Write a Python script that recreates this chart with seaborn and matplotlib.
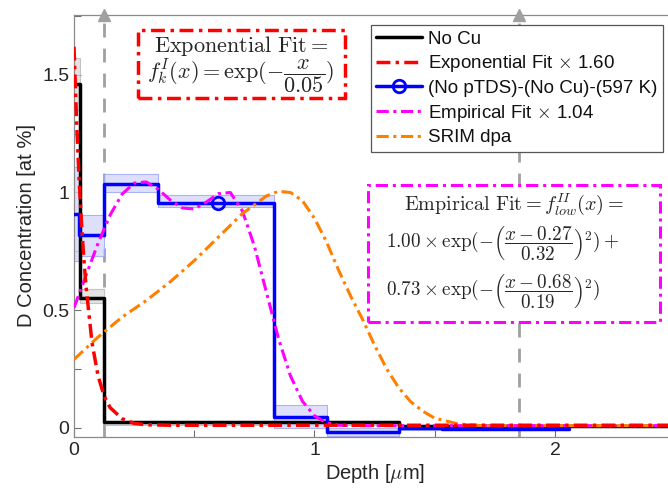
import numpy as np
import pandas as pd
import seaborn as sns
import matplotlib.pyplot as plt
from matplotlib.ticker import MultipleLocator
from matplotlib.patches import Rectangle

# No Cu step profile (bin edges / values), grey error band
nocu_x = [0, 0.025, 0.125, 1.35, 2.5]
nocu_y = [1.46, 0.55, 0.022, 0.008, 0.008]
nocu_lo = [1.35, 0.53, 0.012, 0.004, 0.004]
nocu_hi = [1.57, 0.59, 0.030, 0.012, 0.012]

# (No pTDS)-(No Cu)-(597 K) step profile, blue band
pt_x = [0, 0.02, 0.125, 0.35, 0.60, 0.83, 1.05, 1.35, 1.53, 2.06]
pt_y = [0.91, 0.82, 1.035, 0.955, 0.955, 0.047, -0.018, -0.003, -0.006, -0.006]
pt_lo = [0.71, 0.73, 1.00, 0.94, 0.94, 0.0, -0.035, -0.012, -0.008, -0.008]
pt_hi = [1.11, 0.905, 1.08, 0.99, 0.99, 0.094, 0.0, 0.004, -0.002, -0.002]

# exponential fit x 1.60
exp_x = [0, 0.01, 0.02, 0.03, 0.04, 0.05, 0.075, 0.1, 0.125, 0.15, 0.2, 0.25, 0.3, 0.4, 2.5]
exp_y = [1.62, 1.32, 1.08, 0.89, 0.73, 0.6, 0.36, 0.22, 0.135, 0.085, 0.038, 0.018, 0.012, 0.01, 0.01]

# empirical fit x 1.04
emp_x = [0, 0.05, 0.1, 0.15, 0.2, 0.25, 0.3, 0.35, 0.4, 0.45, 0.5, 0.55, 0.6, 0.65,
         0.7, 0.75, 0.8, 0.85, 0.9, 0.95, 1.0, 1.05, 1.1, 1.2, 2.5]
emp_y = [0.51, 0.648, 0.784, 0.904, 0.993, 1.04, 1.045, 1.014, 0.968, 0.934, 0.93, 0.959,
         0.995, 1.0, 0.922, 0.772, 0.576, 0.38, 0.22, 0.112, 0.05, 0.02, 0.01, 0.008, 0.008]

# SRIM dpa
srim_x = [0, 0.1, 0.2, 0.3, 0.4, 0.5, 0.6, 0.7, 0.8, 0.85, 0.9, 0.95, 1.0, 1.05, 1.1,
          1.15, 1.2, 1.25, 1.3, 1.35, 1.4, 1.45, 1.5, 1.6, 1.7, 2.5]
srim_y = [0.29, 0.385, 0.47, 0.54, 0.62, 0.71, 0.81, 0.91, 0.985, 1.005, 1.0, 0.965, 0.89,
          0.79, 0.67, 0.56, 0.46, 0.35, 0.25, 0.17, 0.11, 0.07, 0.04, 0.015, 0.008, 0.008]

marks_x = [0.125, 1.85]

sns.set_theme(style='white')
plt.rcParams['font.family'] = ['Liberation Sans', 'DejaVu Sans']
plt.rcParams['mathtext.fontset'] = 'cm'

W, H = 668, 498
fig = plt.figure(figsize=(W / 100, H / 100), dpi=100)
ax = fig.add_axes([0.1108, 0.1225, 0.9, 0.8474])

grey = '#a0a0a0'
for xv in marks_x:
    ax.axvline(xv, color=grey, ls=(0, (5, 4)), lw=2, zorder=1)
    ax.plot([xv], [1.755], marker='^', color=grey, ms=9, clip_on=False, zorder=5)

ax.fill_between(nocu_x, nocu_lo, nocu_hi, step='post', color='#d9d9d9', alpha=0.7,
                edgecolor='#b0b0b0', lw=0.8, zorder=2)
ax.fill_between(pt_x, pt_lo, pt_hi, step='post', color='#d6d9fb', alpha=0.8,
                edgecolor='#9aa3f5', lw=0.8, zorder=2)

dd = (0, (4, 1.5, 1, 1.5))
sns.lineplot(x=nocu_x, y=nocu_y, drawstyle='steps-post', color='black', lw=2.5,
             label='No Cu', ax=ax, zorder=4)
sns.lineplot(x=exp_x, y=exp_y, color='#ff0000', lw=2.5, ls=dd, dashes=False,
             label=r'Exponential Fit $\times$ 1.60', ax=ax, zorder=6)
sns.lineplot(x=pt_x, y=pt_y, drawstyle='steps-post', color='#0000ff', lw=2.5,
             marker='o', markevery=[4], ms=9, mfc='none', mew=2, mec='#0000ff',
             label='(No pTDS)-(No Cu)-(597 K)', ax=ax, zorder=4)
sns.lineplot(x=emp_x, y=emp_y, color='#ff00ff', lw=2.2, ls=dd, dashes=False,
             label=r'Empirical Fit $\times$ 1.04', ax=ax, zorder=5)
sns.lineplot(x=srim_x, y=srim_y, color='#ff8000', lw=2.2, ls=dd, dashes=False,
             label='SRIM dpa', ax=ax, zorder=5)

ax.set_xlim(0, 2.5)
ax.set_ylim(-0.04, 1.755)
ax.xaxis.set_minor_locator(MultipleLocator(0.5))
ax.yaxis.set_minor_locator(MultipleLocator(0.25))
ax.set_xticks([0, 1, 2])
ax.set_xticklabels(['0', '1', '2'])
ax.set_yticks([0, 0.5, 1, 1.5])
ax.set_yticklabels(['0', '0.5', '1', '1.5'])
ax.tick_params(which='both', direction='in', left=True, bottom=True, length=5,
               width=0.8, color='#707070', labelsize=14, labelcolor='#262626')
for s in ['left', 'bottom', 'top']:
    ax.spines[s].set_color('#8a8a8a')
    ax.spines[s].set_linewidth(0.9)
ax.spines['right'].set_visible(False)

ax.set_xlabel(r'Depth [$\mu$m]', fontsize=14.5, color='#262626', labelpad=2)
ax.set_ylabel('D Concentration [at %]', fontsize=14.5, color='#262626', labelpad=4)

leg = ax.legend(loc='upper right', bbox_to_anchor=(0.9925, 0.95),
                bbox_transform=fig.transFigure, fontsize=13.5, frameon=True,
                fancybox=False, framealpha=1, edgecolor='#555555',
                handlelength=2.45, handletextpad=0.3, labelspacing=0.3,
                borderpad=0.3, borderaxespad=0)
leg.get_frame().set_linewidth(0.9)
for t in leg.get_texts():
    t.set_color('#111111')


def fit_box(x0, y0, x1, y1, color, lw):
    # pixel box (top-left origin) -> figure fraction
    r = Rectangle((x0 / W, 1 - y1 / H), (x1 - x0) / W, (y1 - y0) / H,
                  transform=fig.transFigure, fc='white', ec=color, lw=lw,
                  ls=(0, (4, 1.6, 1, 1.6)), zorder=6)
    fig.patches.append(r)


fit_box(138, 30, 345, 98, '#ff0000', 2.5)
fit_box(368, 185, 660, 322, '#ff00ff', 2.2)

fig.text(241 / W, 1 - 46 / H, r'$\mathrm{Exponential\ Fit} =$',
         ha='center', va='center', fontsize=16, zorder=7)
fig.text(241 / W, 1 - 76 / H, r'$f_k^I(x) = \exp(-\dfrac{x}{0.05})$',
         ha='center', va='center', fontsize=16, zorder=7)

fig.text(514 / W, 1 - 204 / H, r'$\mathrm{Empirical\ Fit} = f^{II}_{low}(x) =$',
         ha='center', va='center', fontsize=14.5, zorder=7)
fig.text(386 / W, 1 - 244 / H, r'$1.00\times\exp(-\left(\dfrac{x-0.27}{0.32}\right)^2)+$',
         ha='left', va='center', fontsize=13.8, zorder=7)
fig.text(386 / W, 1 - 292 / H, r'$0.73\times\exp(-\left(\dfrac{x-0.68}{0.19}\right)^2)$',
         ha='left', va='center', fontsize=13.8, zorder=7)

fig.savefig('out.png', dpi=100)
